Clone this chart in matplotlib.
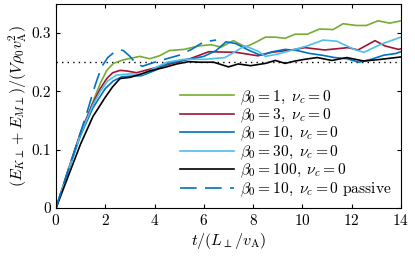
import numpy as np
import matplotlib
matplotlib.use("Agg")
import matplotlib.pyplot as plt

plt.rcParams['mathtext.fontset'] = 'cm'
plt.rcParams['font.family'] = 'serif'
plt.rcParams['font.serif'] = ['cmr10']
plt.rcParams['axes.formatter.use_mathtext'] = True
plt.rcParams['axes.unicode_minus'] = False

# values
t_b1 = [0, 0.5, 1.0, 1.3, 1.6, 1.8, 2.06, 2.33, 2.73, 3.4, 3.8, 4.2, 4.6, 5.2, 5.8, 6.3, 6.7, 7.2,
        7.7, 8.1, 8.5, 8.9, 9.3, 9.7, 10.2, 10.7, 11.25, 11.65, 12.2, 12.6, 13.07, 13.55, 14.0]
e_b1 = [0, 0.065, 0.128, 0.16, 0.193, 0.214, 0.236, 0.248, 0.254, 0.26, 0.256, 0.261, 0.27, 0.272,
        0.278, 0.28, 0.276, 0.287, 0.276, 0.284, 0.293, 0.293, 0.291, 0.298, 0.298, 0.307, 0.306,
        0.316, 0.313, 0.313, 0.321, 0.317, 0.321]

t_b3 = [0, 0.5, 1.0, 1.5, 1.8, 2.06, 2.3, 2.6, 2.87, 3.27, 3.8, 4.36, 4.9, 5.44, 6.2, 7.3, 8.2,
        8.75, 9.56, 10.1, 10.9, 11.85, 12.26, 12.95, 13.35, 13.9, 14.0]
e_b3 = [0, 0.066, 0.13, 0.18, 0.205, 0.222, 0.232, 0.236, 0.235, 0.232, 0.238, 0.244, 0.25, 0.256,
        0.268, 0.267, 0.261, 0.267, 0.271, 0.275, 0.271, 0.275, 0.271, 0.287, 0.278, 0.272, 0.273]

t_b10 = [0, 0.5, 1.0, 1.5, 2.0, 2.33, 2.67, 3.0, 3.48, 4.02, 4.55, 5.0, 5.5, 6.0, 6.5, 6.9, 7.3,
         7.8, 8.3, 8.8, 9.3, 9.8, 10.3, 10.8, 11.3, 11.8, 12.3, 12.8, 13.3, 13.8, 14.0]
e_b10 = [0, 0.064, 0.125, 0.172, 0.205, 0.218, 0.225, 0.226, 0.227, 0.236, 0.248, 0.252, 0.256,
         0.26, 0.27, 0.285, 0.282, 0.271, 0.262, 0.268, 0.272, 0.27, 0.265, 0.262, 0.258, 0.256,
         0.25, 0.255, 0.262, 0.265, 0.268]

t_b30 = [0, 0.5, 1.0, 1.5, 1.8, 2.1, 2.46, 3.0, 3.5, 4.0, 4.5, 5.2, 6.05, 6.86, 7.67, 8.2, 8.5,
         9.0, 9.7, 10.2, 10.84, 11.4, 12.1, 12.5, 13.2, 14.0]
e_b30 = [0, 0.065, 0.127, 0.177, 0.2, 0.218, 0.228, 0.23, 0.229, 0.24, 0.25, 0.255, 0.255, 0.258,
         0.278, 0.269, 0.26, 0.264, 0.272, 0.278, 0.288, 0.286, 0.272, 0.267, 0.281, 0.293]

t_b100 = [0, 0.5, 1.0, 1.5, 2.0, 2.3, 2.6, 3.0, 3.4, 3.8, 4.4, 4.9, 5.4, 5.8, 6.4, 7.0, 7.4, 7.9,
          8.5, 8.9, 9.3, 9.7, 10.1, 10.6, 11.2, 11.8, 12.5, 13.2, 14.0]
e_b100 = [0, 0.055, 0.11, 0.157, 0.19, 0.208, 0.222, 0.224, 0.229, 0.235, 0.241, 0.247, 0.251,
          0.25, 0.25, 0.242, 0.247, 0.244, 0.248, 0.253, 0.248, 0.252, 0.255, 0.258, 0.253, 0.258,
          0.252, 0.255, 0.259]

t_pas = [0, 0.5, 1.0, 1.3, 1.6, 1.85, 2.1, 2.33, 2.6, 2.73, 3.0, 3.2, 3.5, 4.0, 4.5, 5.0, 5.5,
         6.0, 6.5]
e_pas = [0, 0.066, 0.13, 0.17, 0.212, 0.242, 0.258, 0.266, 0.271, 0.27, 0.26, 0.25, 0.243, 0.25,
         0.256, 0.262, 0.272, 0.285, 0.288]

labels = [r'$\beta_0=1,\;\nu_c=0$', r'$\beta_0=3,\;\nu_c=0$', r'$\beta_0=10,\;\nu_c=0$',
          r'$\beta_0=30,\;\nu_c=0$', r'$\beta_0=100,\;\nu_c=0$',
          r'$\beta_0=10,\;\nu_c=0\ \mathrm{passive}$']

fig = plt.figure(figsize=(4.15, 2.6), dpi=100)
ax = fig.add_axes([0.135, 0.2, 0.831, 0.785])

lw = 1.2
ax.axhline(0.25, color='k', ls=(0, (1, 3)), lw=1.0)
ax.plot(t_b1, e_b1, color='#77AC30', lw=lw, label=labels[0])
ax.plot(t_b3, e_b3, color='#A2142F', lw=lw, label=labels[1])
ax.plot(t_b10, e_b10, color='#0072BD', lw=lw, label=labels[2])
ax.plot(t_b30, e_b30, color='#4DBEEE', lw=lw, label=labels[3])
ax.plot(t_b100, e_b100, color='k', lw=lw, label=labels[4])
ax.plot(t_pas, e_pas, color='#0072BD', lw=lw, dashes=[10, 5], label=labels[5])

ax.set_xlim(0, 14)
ax.set_ylim(0, 0.35)
ax.set_xticks(np.arange(0, 15, 2))
ax.set_yticks([0, 0.1, 0.2, 0.3])
ax.set_yticklabels(['0', '0.1', '0.2', '0.3'])
ax.tick_params(direction='in', top=True, right=True, labelsize=11, length=3)
ax.set_xlabel(r'$t/(L_\perp/v_{\rm A})$', fontsize=11.5, labelpad=2)
ax.set_ylabel(r'$(E_{K\perp}+E_{M\perp})/(V\rho_0 v_{\rm A}^2)$', fontsize=11.5, labelpad=2)

ax.legend(loc='lower right', frameon=False, fontsize=11.2, handlelength=3.5,
          labelspacing=0.0, borderaxespad=0.2, handletextpad=0.35)

fig.savefig('out.png', dpi=100)
